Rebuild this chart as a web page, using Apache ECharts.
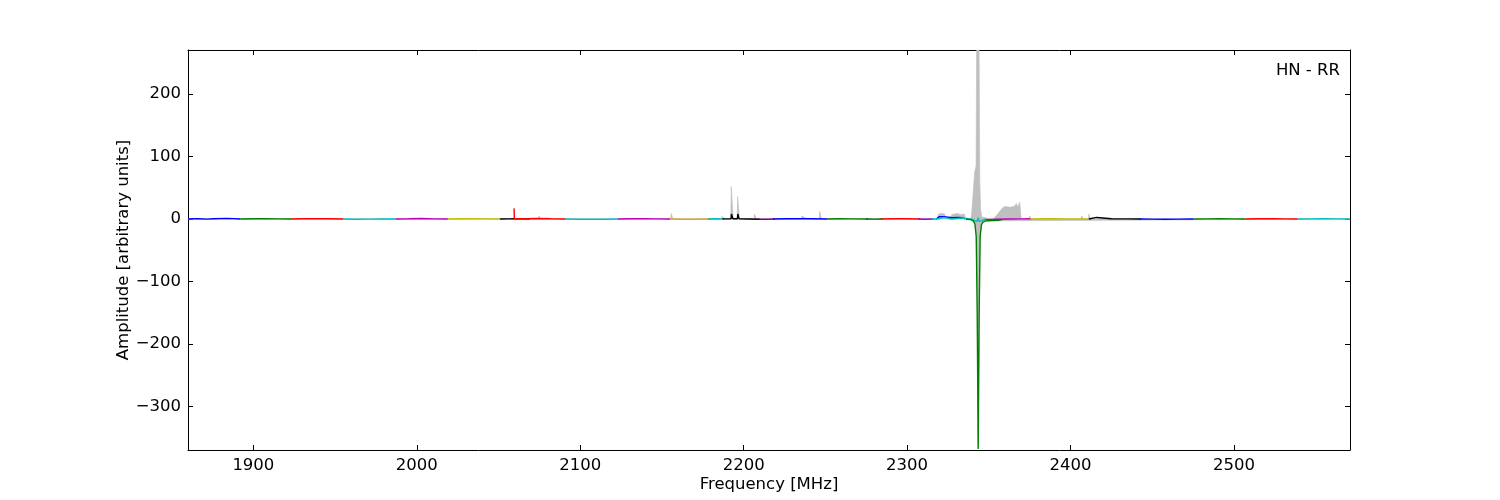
<!DOCTYPE html>
<html><head><meta charset="utf-8">
<script src="https://cdn.jsdelivr.net/npm/echarts@6/dist/echarts.min.js"></script>
<style>html,body{margin:0;padding:0;background:#fff}#c{width:1500px;height:500px}</style>
</head><body><div id="c"></div>
<script>
const xTicks = [1900, 2000, 2100, 2200, 2300, 2400, 2500];
const yTicks = [-300, -200, -100, 0, 100, 200];
const xRange = [1860, 2571];
const yRange = [-369.6, 270.4];

// gray spectrum envelope (upper / lower), [MHz, amplitude]
const grayUpper = [
  [1860,0],[2074.4,0],[2074.8,5],[2075.4,5],[2075.8,0],
  [2155.4,0],[2155.7,9],[2156.4,9],[2156.7,0],
  [2186.4,0],[2186.8,4],[2187.8,4],[2188.2,0],
  [2192.1,0],[2192.4,52],[2193.3,52],[2193.6,0],
  [2196,0],[2196.3,36],[2197.1,36],[2197.4,0],
  [2206.3,0],[2206.6,8],[2207.4,8],[2207.7,0],
  [2235.3,0],[2235.6,5],[2236.2,5],[2236.6,2],[2237.6,2],[2238,5],[2238.6,5],[2239,0],
  [2246.2,0],[2246.5,12],[2247.3,12],[2247.6,0],
  [2318.6,0],[2319.2,8],[2320,10],[2321.4,9],[2322,10],[2323,8],[2323.5,2],[2326.8,2],[2327.3,7],[2329,8],[2330,7],[2331,9],[2332.6,7],[2333.5,9],[2335,8],[2335.6,2],[2337,0],
  [2339,0],[2339.6,12],[2341.3,75],[2342.2,85],[2342.5,250],[2343.3,700],[2344.1,250],[2344.5,60],[2345,15],[2345.8,3],[2347,0.5],
  [2352,0],[2353.5,2],[2356,10],[2358.5,18],[2360,20],[2363,19],[2365.5,20],[2366.6,20],[2366.9,25],[2367.4,25],[2367.7,19],[2368.5,20],[2368.9,27],[2369.5,27],[2369.8,0],
  [2374.7,0],[2375,5],[2375.6,5],[2375.9,0],
  [2406.4,0],[2406.8,5],[2407.5,3],[2408,0],
  [2410.9,0],[2411.2,8],[2411.8,8],[2412.1,0],
  [2571,0]
];
const grayLower = [
  [1860,0],[2339.5,0],[2340.5,-3],[2341.5,-8],[2342.3,-25],[2342.9,-120],[2343.5,-365],[2344.1,-120],[2344.7,-25],[2345.5,-8],[2346.5,-3],[2347.5,0],[2571,0]
];

// coloured sub-band traces
const segmentColors = [
  '#0000ff','#008000','#ff0000','#00bfbf','#bf00bf','#bfbf00','#000000','#ff0000','#00bfbf','#bf00bf',
  '#daa520','#00bfbf','#000000','#800080','#0000ff','#008000','#006400','#ff0000','#9400d3',
  '#0000ff','#00bfbf','#bf00bf','#008000','#bfbf00','#000000','#0000ff','#008000','#ff0000','#00bfbf'
];
const segmentPoints = [
  [[1860,0.2],[1866,0.5],[1872,-0.2],[1875.5,0.3],[1876,1.5],[1876.5,0.3],[1884,1],[1888,0.6],[1892,0]],
  [[1892,0],[1900,0.4],[1908,0.5],[1916,0.2],[1923,0]],
  [[1923,0],[1930,0.4],[1938,0.6],[1946,0.3],[1955,0]],
  [[1955,0],[1963,-0.3],[1971,-0.2],[1979,0.1],[1987,0]],
  [[1987,0],[1995,0.3],[2003,0.8],[2004,0.3],[2011,0.2],[2019,0]],
  [[2019,0],[2027,0.4],[2035,0.5],[2043,0.2],[2051,0]],
  [[2051,0],[2056,0.2],[2060,0.3],[2067.5,0.3],[2067.8,2.5],[2068.1,0.3],[2069,0]],
  [[2059.5,17],[2059.7,0.3],[2066,0.5],[2074,0.8],[2082,0.3],[2091,0]],
  [[2091,0],[2099,-0.4],[2107,-0.5],[2115,-0.3],[2123,0]],
  [[2123,0],[2131,0.3],[2139,0.4],[2147,0.2],[2155,0]],
  [[2155,0],[2162,-0.3],[2170,-0.3],[2180,0]],
  [[2178,0],[2183,0.3],[2188,0]],
  [[2187,0.2],[2192.3,0.3],[2192.5,8],[2193.2,8],[2193.4,0.3],[2196.2,0.3],[2196.4,8],[2197,8],[2197.2,0.3],[2203,0],[2210,-0.3]],
  [[2209,-0.3],[2214,-0.4],[2219,0]],
  [[2218,0],[2226,0.3],[2234,0.5],[2242,0.3],[2251,0]],
  [[2251,0],[2259,0.3],[2267,0.2],[2276,0]],
  [[2275,0],[2280,-0.2],[2285,0]],
  [[2284,0],[2291,0.3],[2299,0.3],[2308,0]],
  [[2307,0],[2311,-0.3],[2316,0]],
  [[2318,0],[2319.5,3.5],[2322.5,3.5],[2323.5,0.5],[2328,2],[2331,2.6],[2334,2],[2335.5,0]],
  [[2315,0],[2318.5,0],[2319.5,2.5],[2322.5,2.5],[2323.5,0],[2327,0],[2328,1.5],[2334,1.5],[2335,0],[2340,-0.5],[2341.5,-3],[2342.8,-4],[2343.5,2],[2344.2,-4],[2345.5,-3],[2347,-1],[2348,0]],
  [[2348,-1],[2355,-0.5],[2362,0],[2370,0.2],[2374.5,0.5],[2375.2,2.5],[2376,0]],
  [[2336,-0.3],[2339,-1],[2340.5,-3],[2341.5,-8],[2342.3,-28],[2342.9,-150],[2343.5,-368],[2344.1,-150],[2344.7,-28],[2345.5,-9],[2346.5,-5],[2348,-3],[2352,-2.5],[2356,-2],[2358,-1]],
  [[2375,0],[2383,0.5],[2391,0.4],[2399,0.2],[2407,0],[2411,0]],
  [[2411.2,0],[2411.4,3],[2416,2.5],[2416.5,0.5],[2425,0.3],[2435,0.2],[2443,0]],
  [[2442,0],[2450,-0.2],[2458,-0.3],[2466,-0.2],[2475,0]],
  [[2475,0],[2483,0.2],[2491,0.3],[2499,0.2],[2507,0]],
  [[2507,0],[2515,0.3],[2523,0.6],[2524,1.2],[2525,0.5],[2531,0.2],[2539,0]],
  [[2539,0],[2547,0.2],[2555,0.3],[2563,0.2],[2571,0]]
];

const FONT = 'DejaVu Sans';
const FS = 16.5;
const minusFmt = v => (v < 0 ? '\u2212' + (-v) : String(v));
const plainFmt = v => String(v);

function axisBase(extra) {
  return Object.assign({
    type: 'value',
    splitLine: { show: false },
    axisLine: { show: true, onZero: false, lineStyle: { color: '#000', width: 1 } },
  }, extra);
}

const series = [];
[grayUpper, grayLower].forEach(d => {
  series.push({
    type: 'line', data: d, symbol: 'none', silent: true,
    lineStyle: { color: '#bfbfbf', width: 0.6 },
    areaStyle: { color: '#bfbfbf', opacity: 1, origin: 0 },
    xAxisIndex: 0, yAxisIndex: 0
  });
});
segmentPoints.forEach((d, i) => {
  series.push({
    type: 'line', data: d, symbol: 'none', silent: true,
    lineStyle: { color: segmentColors[i], width: 1.4 },
    xAxisIndex: 0, yAxisIndex: 0
  });
});

const chart = echarts.init(document.getElementById('c'));
chart.setOption({
  animation: false,
  backgroundColor: '#fff',
  textStyle: { fontFamily: FONT },
  grid: { left: 188, right: 150, top: 50, bottom: 50, containLabel: false, outerBoundsMode: 'none' },
  xAxis: [
    axisBase({
      position: 'bottom', min: xRange[0], max: xRange[1],
      axisTick: { show: true, inside: true, length: 5, customValues: xTicks, lineStyle: { color: '#000' } },
      axisLabel: { show: true, customValues: xTicks, color: '#000', fontSize: FS, fontFamily: FONT, margin: 7, formatter: plainFmt },
      name: 'Frequency [MHz]', nameLocation: 'middle', nameGap: 26, nameMoveOverlap: false,
      nameTextStyle: { color: '#000', fontSize: FS, fontFamily: FONT }
    }),
    axisBase({
      position: 'top', min: xRange[0], max: xRange[1],
      axisTick: { show: true, inside: true, length: 5, customValues: xTicks, lineStyle: { color: '#000' } },
      axisLabel: { show: false }
    })
  ],
  yAxis: [
    axisBase({
      position: 'left', min: yRange[0], max: yRange[1],
      axisTick: { show: true, inside: true, length: 5, customValues: yTicks, lineStyle: { color: '#000' } },
      axisLabel: { show: true, customValues: yTicks, color: '#000', fontSize: FS, fontFamily: FONT, margin: 7, formatter: minusFmt },
      name: 'Amplitude [arbitrary units]', nameLocation: 'middle', nameGap: 56, nameRotate: 90, nameMoveOverlap: false,
      nameTextStyle: { color: '#000', fontSize: FS, fontFamily: FONT }
    }),
    axisBase({
      position: 'right', min: yRange[0], max: yRange[1],
      axisTick: { show: true, inside: true, length: 5, customValues: yTicks, lineStyle: { color: '#000' } },
      axisLabel: { show: false }
    })
  ],
  graphic: [{
    type: 'text', right: 160, top: 62,
    style: { text: 'HN - RR', fill: '#000', font: FS + 'px "' + FONT + '"' }
  }],
  series: series
});
</script>
</body></html>
